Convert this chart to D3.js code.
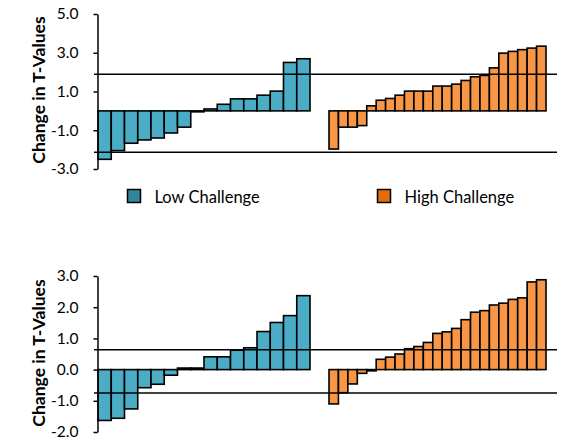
<!DOCTYPE html>
<html>
<head>
<meta charset="utf-8">
<script src="https://cdn.jsdelivr.net/npm/d3@7"></script>
<style>
  body { margin: 0; background: #fff; }
  svg text { font-family: Lato, "Open Sans", sans-serif; fill: #000; }
</style>
</head>
<body>
<svg id="chart" width="567" height="440"></svg>
<script>
// top panel values
var topLow = [-2.5, -2.05, -1.67, -1.5, -1.4, -1.14, -0.84, -0.05, 0.1, 0.34, 0.62, 0.62, 0.81, 1.02, 2.5, 2.69];
var topHigh = [-1.97, -0.84, -0.84, -0.76, 0.26, 0.55, 0.64, 0.81, 1.02, 1.02, 1.02, 1.28, 1.28, 1.38, 1.57, 1.76, 1.83, 2.22, 2.98, 3.07, 3.16, 3.24, 3.34];
var topLines = [1.89, -2.13];
var topTicks = [-3, -1, 1, 3, 5];

// bottom panel values
var botLow = [-1.63, -1.56, -1.26, -0.58, -0.47, -0.18, 0.05, 0.05, 0.41, 0.41, 0.62, 0.7, 1.22, 1.51, 1.73, 2.37];
var botHigh = [-1.1, -0.74, -0.46, -0.12, -0.04, 0.33, 0.4, 0.5, 0.67, 0.74, 0.87, 1.16, 1.21, 1.32, 1.6, 1.84, 1.89, 2.07, 2.13, 2.25, 2.3, 2.81, 2.88];
var botLines = [0.64, -0.75];
var botTicks = [-2, -1, 0, 1, 2, 3];

var legendLabels = ["Low Challenge", "High Challenge"];

var barColor = {low: "#4bacc6", high: "#f79646"};
var swatchColor = {low: "#31849b", high: "#e46c0a"};

var svg = d3.select("#chart");

var xLow = d3.scaleBand().domain(d3.range(16)).range([98, 310]).padding(0);
var xHigh = d3.scaleBand().domain(d3.range(23)).range([329, 546]).padding(0);

function panel(low, high, lines, ticks, yRange, titleY) {
  var y = d3.scaleLinear()
      .domain([ticks[0], ticks[ticks.length - 1]])
      .range(yRange);

  var g = svg.append("g");

  function bars(data, x, col) {
    g.selectAll(null)
        .data(data)
      .enter().append("rect")
        .attr("x", function(d, i) { return x(i); })
        .attr("width", x.bandwidth())
        .attr("y", function(d) { return y(Math.max(0, d)); })
        .attr("height", function(d) { return Math.abs(y(d) - y(0)); })
        .style("fill", col)
        .style("stroke", "#000")
        .style("stroke-width", 1.6);
  }
  bars(low, xLow, barColor.low);
  bars(high, xHigh, barColor.high);

  g.selectAll(null)
      .data(lines)
    .enter().append("line")
      .attr("x1", 94)
      .attr("x2", 557)
      .attr("y1", function(d) { return y(d); })
      .attr("y2", function(d) { return y(d); })
      .style("stroke", "#000")
      .style("stroke-width", 1.5);

  var yAxis = d3.axisLeft(y)
      .tickValues(ticks)
      .tickSize(4)
      .tickSizeOuter(0)
      .tickFormat(function(d) { return d.toFixed(1); });

  var ax = g.append("g")
      .attr("transform", "translate(97.5,0)")
      .call(yAxis);
  ax.select(".domain").style("stroke", "#000").style("stroke-width", 1.5);
  ax.selectAll(".tick line").style("stroke", "#000").style("stroke-width", 1.5);
  ax.selectAll(".tick text")
      .attr("x", -19)
      .style("font-size", "15.5px")
      .style("font-family", "Lato, 'Open Sans', sans-serif");

  g.append("text")
      .attr("transform", "translate(38," + titleY + ") rotate(-90)")
      .attr("text-anchor", "middle")
      .attr("dominant-baseline", "central")
      .style("font-size", "17.5px")
      .style("font-weight", "bold")
      .text("Change in T-Values");
}

panel(topLow, topHigh, topLines, topTicks, [169, 14], 90);
panel(botLow, botHigh, botLines, botTicks, [432, 276], 353);

// legend
var legend = svg.append("g");
var legX = [127.5, 377.5];
legendLabels.forEach(function(lbl, i) {
  legend.append("rect")
      .attr("x", legX[i])
      .attr("y", 189.5)
      .attr("width", 13)
      .attr("height", 13)
      .style("fill", i == 0 ? swatchColor.low : swatchColor.high)
      .style("stroke", "#000")
      .style("stroke-width", 1.5);
  legend.append("text")
      .attr("x", legX[i] + 27)
      .attr("y", 196.5)
      .attr("dominant-baseline", "central")
      .style("font-size", "16.5px")
      .text(lbl);
});
</script>
</body>
</html>
